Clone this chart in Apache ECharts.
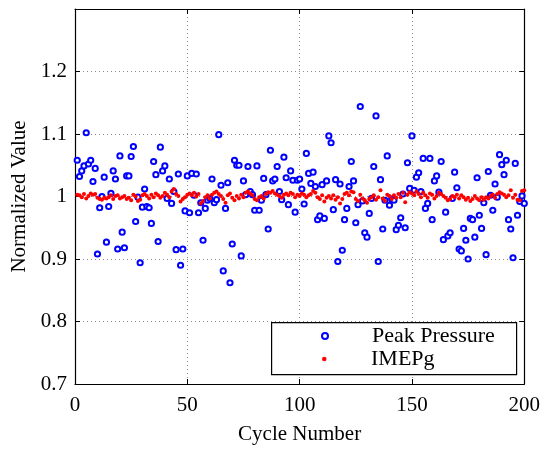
<!DOCTYPE html>
<html>
<head>
<meta charset="utf-8">
<script src="https://cdn.jsdelivr.net/npm/echarts@6/dist/echarts.min.js"></script>
<style>html,body{margin:0;padding:0;background:#fff}#c{width:543px;height:450px}</style>
</head>
<body>
<div id="c"></div>
<script>
const cycles = Array.from({length: 200}, (_, i) => i + 1);
const peakPressure = [
1.058,1.032,1.041,1.049,1.102,1.052,1.058,1.024,1.045,0.908,
0.982,1.000,1.031,0.927,0.984,1.005,1.041,1.028,0.916,1.065,
0.943,0.918,1.033,1.033,1.064,1.080,0.960,0.999,0.894,0.983,
1.012,0.984,0.982,0.957,1.056,1.035,0.928,1.079,1.041,1.049,
0.997,1.028,0.989,1.008,0.915,1.036,0.890,0.916,0.977,1.033,
0.974,1.037,1.002,1.036,0.974,0.990,0.930,0.981,0.994,0.997,
1.028,0.990,0.995,1.099,1.018,0.881,0.981,1.022,0.862,0.924,
1.058,1.050,1.050,0.905,1.025,1.003,1.048,1.008,1.003,0.978,
1.049,0.978,0.994,1.029,1.003,0.948,1.074,1.025,1.028,1.048,
1.008,0.995,1.063,1.030,0.987,1.041,1.026,0.975,1.026,1.028,
1.012,0.988,1.069,1.037,1.021,1.039,1.016,0.963,0.969,1.019,
0.965,1.025,1.097,1.086,0.979,1.027,0.896,1.020,0.914,0.963,
0.981,1.016,1.056,1.025,0.958,0.987,1.144,0.993,0.942,0.935,
0.973,0.997,1.048,1.129,0.896,1.027,0.948,0.994,1.065,0.986,
0.996,0.994,0.947,0.954,0.966,1.004,0.950,1.054,1.013,1.097,
1.010,1.031,1.038,1.008,1.061,0.981,0.989,1.061,0.963,1.025,
1.033,1.007,1.056,0.931,0.975,0.937,0.942,0.997,1.039,1.014,
0.916,0.913,0.949,0.930,0.900,0.965,0.963,0.935,1.030,0.970,
0.949,0.990,0.907,1.040,1.002,0.978,1.020,0.999,1.067,1.051,
1.035,1.058,0.963,0.948,0.902,1.053,0.970,0.992,1.001,0.989
];
const imepg = [
1.003,1.002,0.999,1.004,0.997,1.001,1.005,1.003,1.004,0.998,
0.996,0.995,0.998,0.997,0.999,1.002,0.996,1.001,1.002,0.997,
0.999,1.001,0.996,0.998,0.994,1.003,1.000,0.993,0.995,1.002,
1.004,1.001,0.997,1.003,0.999,1.005,1.002,0.998,1.001,1.006,
1.003,0.999,1.008,1.012,1.004,1.001,0.992,0.996,0.999,1.003,
1.005,1.002,1.006,1.000,1.004,0.989,0.993,0.999,1.002,0.997,
1.003,1.006,1.008,1.004,1.001,0.996,0.990,1.002,1.005,0.998,
0.994,1.001,0.997,1.003,0.999,1.006,1.008,1.005,1.002,0.996,
0.994,0.999,1.001,0.997,1.004,1.007,1.006,1.009,1.005,1.003,
1.001,0.998,1.003,1.005,1.002,1.006,1.004,0.999,1.003,1.001,
1.005,1.003,0.999,1.002,1.004,1.009,1.006,0.999,0.996,1.002,
0.992,0.998,1.001,0.997,1.002,0.995,0.999,0.989,0.996,1.004,
1.006,1.002,1.008,1.007,0.996,0.993,1.003,0.997,0.994,0.990,
0.996,0.999,1.002,0.995,0.999,1.010,0.997,0.993,1.003,1.001,
0.996,1.002,0.998,1.004,0.999,1.006,0.991,1.003,1.007,1.005,
1.002,1.008,1.004,0.999,1.006,1.002,0.998,1.005,1.003,0.997,
1.001,1.006,1.004,1.001,0.998,0.994,0.996,1.001,0.999,1.003,
0.997,1.002,0.999,0.995,0.998,0.993,0.996,1.001,0.997,0.994,
0.999,0.995,0.999,0.997,1.001,1.003,0.998,1.004,1.007,1.005,
1.003,0.999,1.002,1.010,0.998,1.003,0.995,0.994,1.009,1.010
];
const xTicks = [0, 50, 100, 150, 200];
const yTicks = [0.7, 0.8, 0.9, 1.0, 1.1, 1.2];

const FONT = 'Liberation Serif';
const chart = echarts.init(document.getElementById('c'), null, {renderer: 'canvas'});
const gridLine = {show: true, lineStyle: {color: '#8a8a8a', width: 1, type: [1, 3]}};
chart.setOption({
  backgroundColor: '#fff',
  animation: false,
  textStyle: {fontFamily: FONT, color: '#000'},
  grid: {left: 75, right: 15, top: 9, bottom: 64, containLabel: false},
  xAxis: [{
    type: 'value', min: 0, max: 200, interval: 50, position: 'bottom',
    name: 'Cycle Number', nameLocation: 'middle', nameGap: 40,
    nameTextStyle: {fontFamily: FONT, fontSize: 21, color: '#000'},
    axisLine: {show: true, onZero: false, lineStyle: {color: '#000', width: 1.2}},
    axisTick: {show: true, inside: true, length: 5, lineStyle: {color: '#000'}},
    axisLabel: {fontFamily: FONT, fontSize: 21, color: '#000', margin: 11,
      formatter: v => xTicks.includes(v) ? String(v) : ''},
    splitLine: gridLine
  }, {
    type: 'value', min: 0, max: 200, interval: 50, position: 'top',
    axisLine: {show: true, onZero: false, lineStyle: {color: '#000', width: 1.2}},
    axisTick: {show: true, inside: true, length: 5, lineStyle: {color: '#000'}},
    axisLabel: {show: false}, splitLine: {show: false}
  }],
  yAxis: [{
    type: 'value', min: 0.7, max: 1.3, interval: 0.1, position: 'left',
    name: 'Normalized Value', nameLocation: 'middle', nameGap: 45,
    nameTextStyle: {fontFamily: FONT, fontSize: 21, color: '#000'},
    axisLine: {show: true, onZero: false, lineStyle: {color: '#000', width: 1.2}},
    axisTick: {show: true, inside: true, length: 5, lineStyle: {color: '#000'}},
    axisLabel: {fontFamily: FONT, fontSize: 21, color: '#000', margin: 8,
      formatter: v => {
        const r = Math.round(v * 10) / 10;
        return yTicks.some(t => Math.abs(t - r) < 1e-6) ? String(r) : '';
      }},
    splitLine: gridLine
  }, {
    type: 'value', min: 0.7, max: 1.3, interval: 0.1, position: 'right',
    axisLine: {show: true, onZero: false, lineStyle: {color: '#000', width: 1.2}},
    axisTick: {show: true, inside: true, length: 5, lineStyle: {color: '#000'}},
    axisLabel: {show: false}, splitLine: {show: false}
  }],
  graphic: [{
    type: 'rect', left: 271, top: 322, z: 50,
    shape: {width: 245, height: 52},
    style: {fill: '#fff', stroke: '#000', lineWidth: 1.2}
  }],
  legend: [{
    z: 60, left: 321, top: 325, padding: 0,
    itemWidth: 6, itemHeight: 6,
    textStyle: {fontFamily: FONT, fontSize: 22, color: '#000', padding: [0, 0, 0, 39]},
    data: ['Peak Pressure']
  }, {
    z: 60, left: 322, top: 348, padding: 0,
    itemWidth: 4.5, itemHeight: 4.5,
    textStyle: {fontFamily: FONT, fontSize: 22, color: '#000', padding: [0, 0, 0, 39.5]},
    data: ['IMEPg']
  }],
  series: [{
    name: 'Peak Pressure', type: 'scatter', xAxisIndex: 0, yAxisIndex: 0,
    symbol: 'emptyCircle', symbolSize: 5.2,
    itemStyle: {color: '#0000ff', borderColor: '#0000ff', borderWidth: 2.2, opacity: 1},
    data: cycles.map((c, i) => [c, peakPressure[i]]), z: 3
  }, {
    name: 'IMEPg', type: 'scatter', xAxisIndex: 0, yAxisIndex: 0,
    symbol: 'circle', symbolSize: 4,
    itemStyle: {color: '#ff0000', opacity: 1},
    data: cycles.map((c, i) => [c, imepg[i]]), z: 4
  }]
});
</script>
</body>
</html>
